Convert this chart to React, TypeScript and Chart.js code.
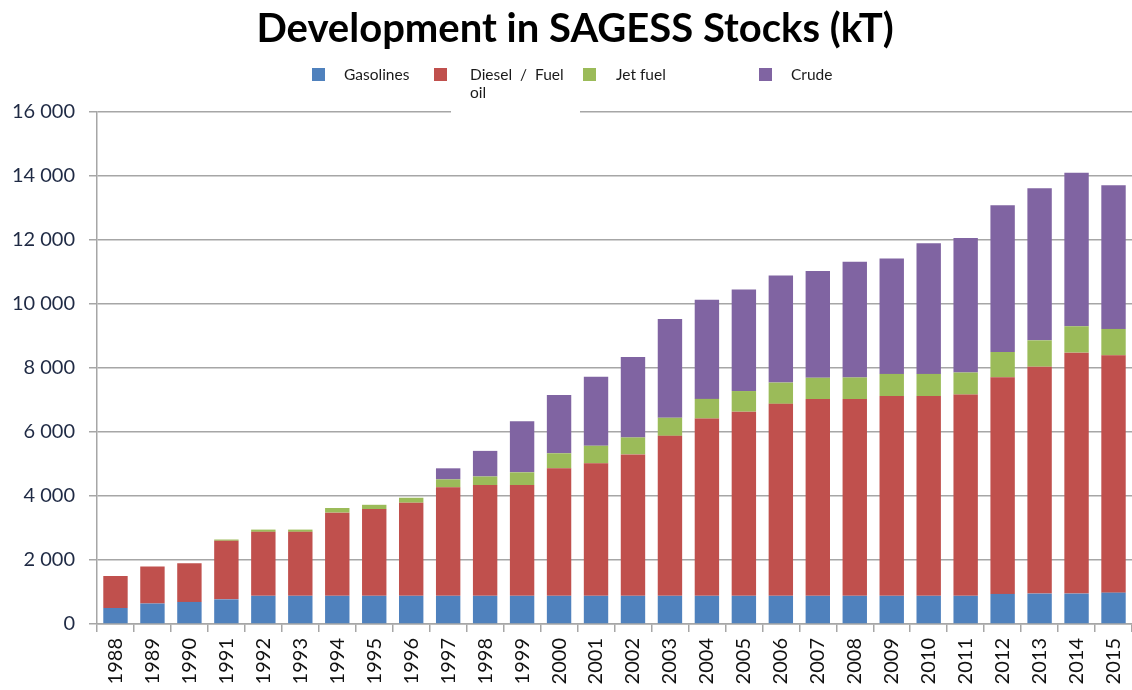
import React, { useEffect, useRef } from "react";
import { Chart, registerables } from "chart.js";

Chart.register(...registerables);

const years = [
  "1988", "1989", "1990", "1991", "1992", "1993", "1994", "1995", "1996", "1997",
  "1998", "1999", "2000", "2001", "2002", "2003", "2004", "2005", "2006", "2007",
  "2008", "2009", "2010", "2011", "2012", "2013", "2014", "2015",
];

const gasolines = [
  500, 640, 690, 770, 880, 880, 880, 880, 880, 880,
  880, 880, 880, 880, 880, 880, 880, 880, 880, 880,
  880, 880, 880, 880, 940, 950, 950, 980,
];

const dieselFuelOil = [
  1000, 1160, 1210, 1830, 2000, 2000, 2600, 2710, 2910, 3390,
  3460, 3460, 3985, 4140, 4420, 5000, 5540, 5755, 6000, 6150,
  6150, 6245, 6245, 6290, 6770, 7090, 7530, 7415,
];

const jetFuel = [
  0, 0, 0, 40, 70, 70, 145, 135, 155, 250,
  270, 400, 470, 550, 530, 565, 615, 645, 665, 665,
  675, 690, 690, 690, 790, 825, 825, 825,
];

const crude = [
  0, 0, 0, 0, 0, 0, 0, 0, 0, 345,
  800, 1595, 1820, 2155, 2510, 3085, 3095, 3175, 3345, 3335,
  3615, 3605, 4085, 4200, 4585, 4750, 4800, 4490,
];

const yTicks = [0, 2000, 4000, 6000, 8000, 10000, 12000, 14000, 16000];

const seriesNames = ["Gasolines", "Diesel / Fuel oil", "Jet fuel", "Crude"];
const seriesColors = ["#4F81BD", "#C0504D", "#9BBB59", "#8064A2"];

const titleText = "Development in SAGESS Stocks (kT)";

const fmt = (v: number) => {
  const s = String(Math.round(v));
  return s.replace(/\B(?=(\d{3})+(?!\d))/g, " ");
};

const decorPlugin = {
  id: "decor",
  afterDraw(chart: any) {
    const ctx = chart.ctx as CanvasRenderingContext2D;
    ctx.save();
    // Title
    ctx.fillStyle = "#000";
    ctx.font = "bold 40px Lato";
    ctx.textAlign = "center";
    ctx.textBaseline = "alphabetic";
    ctx.fillText(titleText, 575, 42);

    // Legend background box of the wrapped item (covers the top gridline)
    ctx.fillStyle = "#fff";
    ctx.fillRect(451, 60, 129, 58);

    ctx.font = "15.5px Lato";
    ctx.textAlign = "left";
    const items = [
      { sq: 312, tx: 344, lines: [seriesNames[0]] },
      { sq: 434, tx: 470, lines: ["Diesel  /  Fuel", "oil"] },
      { sq: 583, tx: 616, lines: [seriesNames[2]] },
      { sq: 759, tx: 791, lines: [seriesNames[3]] },
    ];
    items.forEach((it, i) => {
      ctx.fillStyle = seriesColors[i];
      ctx.fillRect(it.sq, 68, 13, 13);
      ctx.fillStyle = "#1a1a1a";
      it.lines.forEach((ln, j) => {
        ctx.fillText(ln, it.tx, 80 + j * 18);
      });
    });
    ctx.restore();
  },
};

export default function App() {
  const canvasRef = useRef<HTMLCanvasElement | null>(null);

  useEffect(() => {
    document.body.style.margin = "0";
    const canvas = canvasRef.current;
    if (!canvas) return;
    const datasets = [gasolines, dieselFuelOil, jetFuel, crude].map((d, i) => ({
      label: seriesNames[i],
      data: d,
      backgroundColor: seriesColors[i],
      borderWidth: 0,
      barPercentage: 0.66,
      categoryPercentage: 1,
    }));
    const gridColor = "#a6a6a6";
    const chart = new Chart(canvas, {
      type: "bar",
      data: { labels: years, datasets },
      options: {
        animation: false,
        responsive: true,
        maintainAspectRatio: false,
        layout: { padding: { top: 112, left: 0, right: 0, bottom: 0 } },
        plugins: {
          legend: { display: false },
          title: { display: false },
          tooltip: { enabled: false },
        },
        scales: {
          x: {
            stacked: true,
            offset: true,
            grid: {
              display: true,
              drawOnChartArea: false,
              drawTicks: true,
              tickLength: 8,
              color: gridColor,
              lineWidth: 1.5,
              offset: true,
            },
            border: { color: gridColor, width: 1.5 },
            ticks: {
              autoSkip: false,
              minRotation: 90,
              maxRotation: 90,
              padding: 6,
              color: "#111",
              font: { family: "Lato", size: 20 },
            },
            afterFit: (s: any) => {
              s.height = 66;
              s.paddingRight = 0;
              s.paddingLeft = 0;
            },
          },
          y: {
            stacked: true,
            min: 0,
            max: 16000,
            afterBuildTicks: (s: any) => {
              s.ticks = yTicks.map((v) => ({ value: v }));
            },
            grid: {
              color: gridColor,
              lineWidth: 1.5,
              tickLength: 8,
            },
            border: { color: gridColor, width: 1.5 },
            ticks: {
              padding: 14,
              color: "#1f2a44",
              font: { family: "Lato", size: 20 },
              callback: (v: any) => fmt(Number(v)),
            },
            afterFit: (s: any) => {
              s.width = 97;
            },
          },
        },
      },
      plugins: [decorPlugin],
    });
    return () => chart.destroy();
  }, []);

  return (
    <div style={{ position: "fixed", left: 0, top: 0, width: 1132, height: 690, background: "#fff" }}>
      <canvas ref={canvasRef} />
    </div>
  );
}
